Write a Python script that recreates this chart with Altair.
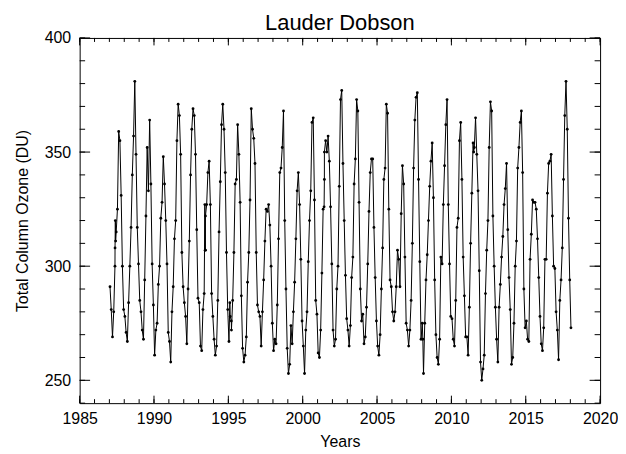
import altair as alt
import pandas as pd

# Monthly total column ozone (DU), Jan..Dec
oz_1987 = [291, 281, 269, 280, 300, 315, 325, 359, 355, 331, 300, 281]
oz_1988 = [278, 271, 267, 284, 300, 317, 340, 357, 381, 349, 317, 301]
oz_1989 = [285, 280, 272, 268, 294, 322, 352, 333, 364, 336, 301, 283]
oz_1990 = [261, 272, 275, 292, 300, 321, 328, 348, 336, 320, 301, 271]
oz_1991 = [267, 258, 280, 291, 312, 320, 355, 371, 366, 349, 306, 291]
oz_1992 = [284, 278, 266, 290, 311, 340, 360, 369, 366, 349, 316, 286]
oz_1993 = [284, 265, 263, 281, 288, 307, 327, 341, 346, 327, 288, 278]
oz_1994 = [268, 261, 265, 285, 315, 337, 362, 371, 360, 341, 306, 281]
oz_1995 = [267, 278, 272, 285, 306, 336, 338, 362, 349, 328, 287, 264]
oz_1996 = [258, 261, 269, 293, 306, 329, 369, 360, 356, 345, 306, 283]
oz_1997 = [280, 278, 265, 280, 294, 311, 325, 324, 327, 318, 300, 275]
oz_1998 = [263, 268, 266, 283, 312, 341, 343, 352, 368, 320, 290, 264]
oz_1999 = [253, 257, 274, 266, 280, 293, 312, 333, 341, 327, 303, 276]
oz_2000 = [265, 253, 272, 280, 302, 320, 333, 363, 365, 329, 285, 279]
oz_2001 = [262, 260, 272, 297, 325, 338, 355, 350, 357, 346, 326, 301]
oz_2002 = [272, 265, 268, 290, 300, 335, 373, 377, 345, 320, 296, 277]
oz_2003 = [272, 265, 274, 295, 304, 336, 347, 373, 368, 328, 290, 276]
oz_2004 = [279, 266, 269, 282, 301, 324, 341, 347, 347, 317, 295, 276]
oz_2005 = [265, 261, 270, 290, 308, 338, 343, 371, 367, 325, 294, 291]
oz_2006 = [280, 276, 280, 291, 307, 303, 291, 323, 344, 336, 304, 275]
oz_2007 = [272, 265, 272, 285, 310, 343, 364, 374, 376, 338, 302, 268]
oz_2008 = [275, 253, 275, 294, 305, 320, 335, 346, 354, 330, 294, 270]
oz_2009 = [260, 257, 268, 304, 301, 327, 344, 362, 373, 327, 301, 278]
oz_2010 = [277, 268, 265, 285, 317, 321, 355, 363, 338, 304, 287, 269]
oz_2011 = [269, 261, 282, 310, 332, 354, 352, 365, 349, 333, 298, 258]
oz_2012 = [250, 255, 261, 288, 307, 320, 352, 372, 368, 322, 300, 282]
oz_2013 = [268, 258, 282, 292, 304, 313, 327, 334, 345, 316, 295, 281]
oz_2014 = [257, 260, 275, 300, 311, 343, 352, 363, 368, 341, 290, 273]
oz_2015 = [276, 268, 267, 303, 314, 329, 328, 328, 325, 312, 295, 278]
oz_2016 = [266, 263, 273, 303, 303, 332, 345, 346, 349, 322, 300, 299]
oz_2017 = [280, 272, 259, 285, 294, 308, 338, 366, 381, 360, 321, 294]
oz_2018 = [273]

# extra (sub-monthly) readings visible as dense vertical strokes
extra_times = [1987.38, 1987.40, 1987.42, 1993.42, 1993.44, 1993.46,
               1995.10, 1995.20, 2001.44, 2001.46, 2008.08, 2011.50]
extra_values = [308, 320, 311, 327, 307, 322, 284, 276, 326, 350, 268, 350]

x_major = [1985, 1990, 1995, 2000, 2005, 2010, 2015, 2020]
x_minor = list(range(1985, 2021))
y_major = [250, 300, 350, 400]
y_minor = list(range(240, 401, 10))

yearly = [oz_1987, oz_1988, oz_1989, oz_1990, oz_1991, oz_1992, oz_1993,
          oz_1994, oz_1995, oz_1996, oz_1997, oz_1998, oz_1999, oz_2000,
          oz_2001, oz_2002, oz_2003, oz_2004, oz_2005, oz_2006, oz_2007,
          oz_2008, oz_2009, oz_2010, oz_2011, oz_2012, oz_2013, oz_2014,
          oz_2015, oz_2016, oz_2017, oz_2018]

rows = []
for i, vals in enumerate(yearly):
    yr = 1987 + i
    for m, v in enumerate(vals):
        rows.append({"x": yr + (m + 0.5) / 12.0, "y": v})
for t, v in zip(extra_times, extra_values):
    rows.append({"x": t, "y": v})
df = pd.DataFrame(rows).sort_values("x").reset_index(drop=True)

W, H = 523, 367
FONT = "Liberation Sans"

xs = alt.Scale(domain=[1985, 2020], nice=False, zero=False)
ys = alt.Scale(domain=[240, 400], nice=False, zero=False)

xaxis = alt.Axis(values=x_major, format="d", title="Years", labelPadding=7,
                 titlePadding=8, labelFlush=False)
yaxis = alt.Axis(values=y_major, format="d", title="Total Column Ozone (DU)",
                 labelPadding=9, titlePadding=14)

base = alt.Chart(df)
line = base.mark_line(color="black", strokeWidth=1).encode(
    x=alt.X("x:Q", scale=xs, axis=xaxis),
    y=alt.Y("y:Q", scale=ys, axis=yaxis),
    order="x:Q",
)
pts = base.mark_circle(color="black", size=8, opacity=1).encode(
    x=alt.X("x:Q", scale=xs, axis=xaxis),
    y=alt.Y("y:Q", scale=ys, axis=yaxis),
)

layers = [line, pts]

def xticks(vals, length):
    d = pd.DataFrame({"x": vals})
    c = alt.Chart(d)
    bot = c.mark_rule(color="black", strokeWidth=1).encode(
        x=alt.X("x:Q", scale=xs, axis=xaxis), y=alt.value(H), y2=alt.value(H - length))
    top = c.mark_rule(color="black", strokeWidth=1).encode(
        x=alt.X("x:Q", scale=xs, axis=xaxis), y=alt.value(0), y2=alt.value(length))
    return [bot, top]

def yticks(vals, length):
    d = pd.DataFrame({"y": vals})
    c = alt.Chart(d)
    left = c.mark_rule(color="black", strokeWidth=1).encode(
        y=alt.Y("y:Q", scale=ys, axis=yaxis), x=alt.value(0), x2=alt.value(length))
    right = c.mark_rule(color="black", strokeWidth=1).encode(
        y=alt.Y("y:Q", scale=ys, axis=yaxis), x=alt.value(W), x2=alt.value(W - length))
    return [left, right]

layers += xticks(x_major, 7.5) + xticks(x_minor, 4)
layers += yticks(y_major, 10.5) + yticks(y_minor, 5.5)

chart = alt.layer(*layers).properties(
    width=W, height=H,
    title=alt.TitleParams("Lauder Dobson", font=FONT, fontSize=22,
                          fontWeight="normal", color="black", offset=-5,
                          anchor="middle"),
    padding={"left": 6, "top": 3, "right": 0, "bottom": 0},
).configure_view(
    stroke="black", strokeWidth=1
).configure_axis(
    domain=False, ticks=False, tickSize=0, grid=False,
    labelFont=FONT, labelFontSize=16, labelColor="black",
    titleFont=FONT, titleFontSize=16, titleFontWeight="normal", titleColor="black",
)

chart.save("out.html", embed_options={"renderer": "svg", "actions": False})
